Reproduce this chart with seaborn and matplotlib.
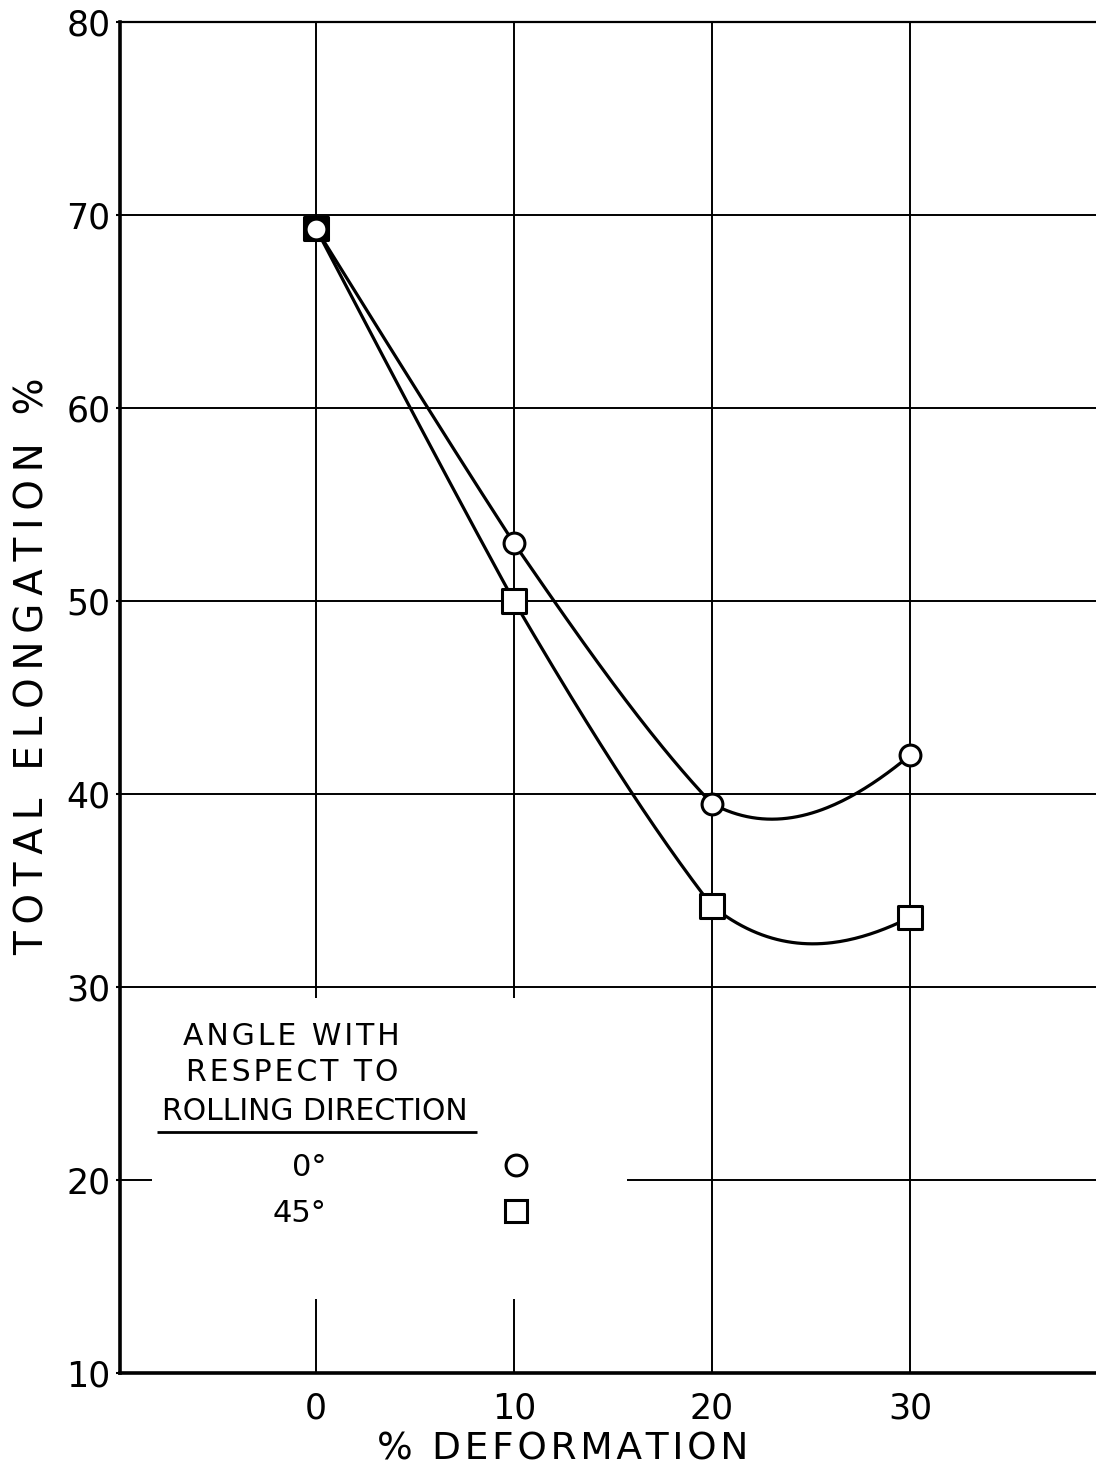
import numpy as np
import pandas as pd
import matplotlib
matplotlib.use("Agg")
import matplotlib.pyplot as plt
import seaborn as sns
from matplotlib.lines import Line2D
from matplotlib.patches import Rectangle

# ---------------- data ----------------
deformation = [0, 10, 20, 30]
elongation_0deg = [69.3, 53.0, 39.5, 42.0]
elongation_45deg = [69.3, 50.0, 34.2, 33.6]
angle_labels = ["0°", "45°"]
x_ticks = [0, 10, 20, 30]
y_ticks = [10, 20, 30, 40, 50, 60, 70, 80]
legend_heading = ["ANGLE WITH", "RESPECT TO", "ROLLING DIRECTION"]
x_label = "% DEFORMATION"
y_label = "TOTAL ELONGATION %"


def smooth_curve(x, y, n=80):
    """Hand-drawn style curve through the data points: cubic Hermite
    segments, Catmull-Rom tangent leaving each point, a tangent biased to
    the incoming chord arriving at it (like a French curve)."""
    x = np.asarray(x, float)
    y = np.asarray(y, float)
    d = np.diff(y) / np.diff(x)
    k = len(x)
    m_out = np.empty(k)
    m_in = np.empty(k)
    m_out[1:-1] = (y[2:] - y[:-2]) / (x[2:] - x[:-2])
    m_in[1:-1] = (2 * d[:-1] + m_out[1:-1]) / 3
    m_out[0] = 1.5 * d[0] - 0.5 * m_in[1]
    m_in[-1] = 1.75 * d[-1] - 0.75 * m_out[-2]
    xs, ys = [], []
    for i in range(k - 1):
        h = x[i + 1] - x[i]
        t = np.linspace(0, 1, n, endpoint=(i == k - 2))
        h00 = 2 * t**3 - 3 * t**2 + 1
        h10 = t**3 - 2 * t**2 + t
        h01 = -2 * t**3 + 3 * t**2
        h11 = t**3 - t**2
        xs.append(x[i] + t * h)
        ys.append(h00 * y[i] + h10 * h * m_out[i] + h01 * y[i + 1] + h11 * h * m_in[i + 1])
    return np.concatenate(xs), np.concatenate(ys)


df = pd.DataFrame({
    "deformation": deformation * 2,
    "elongation": elongation_0deg + elongation_45deg,
    "angle": [angle_labels[0]] * len(deformation) + [angle_labels[1]] * len(deformation),
})

sns.set_theme(style="white")
plt.rcParams["font.family"] = ["DejaVu Sans"]

fig = plt.figure(figsize=(10.96, 14.73), dpi=100)
ax = fig.add_axes([120 / 1096, 100 / 1473, 976 / 1096, 1351 / 1473])

# smooth curves
for series in (elongation_0deg, elongation_45deg):
    xs, ys = smooth_curve(deformation, series)
    sns.lineplot(x=xs, y=ys, sort=False, estimator=None, color="black",
                 linewidth=2.3, ax=ax, zorder=2)

# markers: squares (45 deg) then circles (0 deg)
sq = df[df["angle"] == angle_labels[1]]
sns.scatterplot(data=sq, x="deformation", y="elongation", marker="s", s=17**2,
                color="white", edgecolor="black", linewidth=2.2, zorder=3,
                ax=ax, legend=False)
coincide = np.isclose(elongation_45deg, elongation_0deg)
ax.collections[-1].set_facecolors(["black" if c else "white" for c in coincide])

ci = df[df["angle"] == angle_labels[0]]
sns.scatterplot(data=ci, x="deformation", y="elongation", marker="o", s=15**2,
                color="white", edgecolor="black", linewidth=2.2, zorder=4,
                ax=ax, legend=False)

# axes ranges, ticks, grid
ax.set_xlim(-9.9, 39.4)
ax.set_ylim(10, 80)
ax.set_xticks(x_ticks)
ax.set_yticks(y_ticks)
ax.set_xticklabels([str(v) for v in x_ticks])
ax.set_yticklabels([str(v) for v in y_ticks])
ax.set_axisbelow(True)
ax.grid(True, color="black", linewidth=1.4)
ax.tick_params(axis="y", length=3, width=1.5, pad=4, labelsize=25,
               colors="black", direction="out", left=True)
ax.tick_params(axis="x", length=0, pad=13, labelsize=25, colors="black")

for side in ("left", "bottom"):
    ax.spines[side].set_color("black")
    ax.spines[side].set_linewidth(2.6)
ax.spines["top"].set_color("black")
ax.spines["top"].set_linewidth(1.6)
ax.spines["right"].set_visible(False)

# white legend area that interrupts the grid
ax.add_patch(Rectangle((0.0328, 0.0545), 0.4867, 0.2231, transform=ax.transAxes,
                       facecolor="white", edgecolor="none", zorder=1))

# legend heading
heading_pos = [(0.1752, 0.2494), (0.1762, 0.2221), (0.1998, 0.1939)]
heading_gap = ["\u200a", "\u200a", ""]
for (tx, ty), line, gap in zip(heading_pos, legend_heading, heading_gap):
    ax.text(tx, ty, gap.join(line), transform=ax.transAxes, ha="center",
            va="center", fontsize=21.5, color="black", zorder=5)
ax.plot([0.0379, 0.3658], [0.1784, 0.1784], transform=ax.transAxes,
        color="black", linewidth=2, solid_capstyle="butt", zorder=5)

handles = [
    Line2D([], [], marker="o", ls="none", ms=15, mfc="white", mec="black", mew=2.2),
    Line2D([], [], marker="s", ls="none", ms=16, mfc="white", mec="black", mew=2.2),
]
ax.legend(handles, angle_labels, loc="center", bbox_to_anchor=(0.2971, 0.1352),
          bbox_transform=ax.transAxes, markerfirst=False, frameon=False,
          fontsize=22, handletextpad=5.2, handlelength=2, labelspacing=0.56,
          borderpad=0, labelcolor="black")

# axis labels
ax.set_xlabel("\u200a".join(x_label), fontsize=27, color="black")
ax.xaxis.set_label_coords(0.454, -0.043)
ax.set_ylabel("\u2009".join(y_label), fontsize=28, color="black")
ax.yaxis.set_label_coords(-0.0697, 0.5233)

fig.savefig("out.png", dpi=100, facecolor="white")
